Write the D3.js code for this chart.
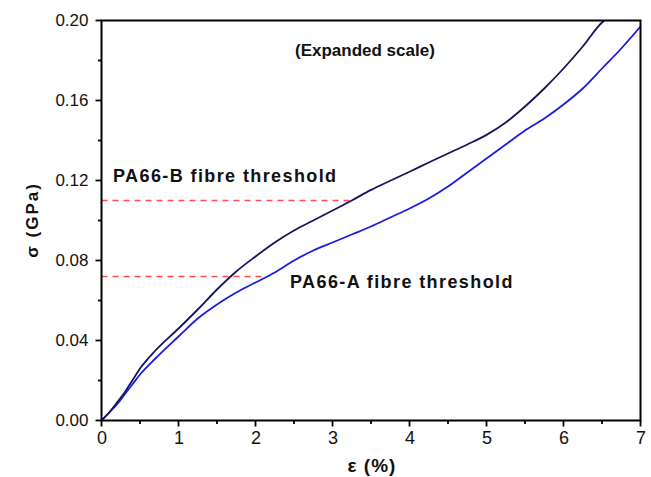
<!DOCTYPE html>
<html><head><meta charset="utf-8">
<script src="https://cdn.jsdelivr.net/npm/d3@7"></script>
<style>
html,body{margin:0;padding:0;background:#fff;}
svg{display:block;font-family:"Liberation Sans",Arial,sans-serif;}
</style></head>
<body><svg id="c" width="651" height="477"></svg>
<script>
// Data
const strainB = [0,0.1,0.2,0.3,0.4,0.5,0.7,1.0,1.25,1.5,1.75,2.0,2.25,2.5,2.75,3.0,3.25,3.5,3.75,4.0,4.25,4.5,4.75,5.0,5.25,5.5,5.75,6.0,6.25,6.5,6.53];
const stressB = [0,0.004,0.009,0.014,0.020,0.026,0.035,0.046,0.0555,0.0655,0.0745,0.082,0.089,0.095,0.100,0.105,0.110,0.1153,0.1199,0.1244,0.129,0.1335,0.138,0.1428,0.149,0.157,0.166,0.176,0.187,0.199,0.200];
const strainA = [0,0.1,0.2,0.3,0.4,0.5,0.7,1.0,1.25,1.5,1.75,2.0,2.25,2.5,2.75,3.0,3.25,3.5,3.75,4.0,4.25,4.5,4.75,5.0,5.25,5.5,5.75,6.0,6.25,6.5,6.75,7.0];
const stressA = [0,0.004,0.008,0.013,0.018,0.023,0.031,0.042,0.051,0.058,0.064,0.069,0.074,0.080,0.085,0.089,0.093,0.097,0.1015,0.106,0.111,0.117,0.124,0.131,0.138,0.145,0.151,0.158,0.166,0.176,0.186,0.197];
const thresholdNames = ["PA66-B fibre threshold","PA66-A fibre threshold"];
const thresholdValues = [0.110, 0.072];
const thresholdEnds = [3.22, 2.08];
const xTicks = [0,1,2,3,4,5,6,7];
const xMinorTicks = [0.5,1.5,2.5,3.5,4.5,5.5,6.5];
const yTicks = [0,0.04,0.08,0.12,0.16,0.20];
const yMinorTicks = [0.02,0.06,0.10,0.14,0.18];

const svg = d3.select("#c");
const L=101.5, R=640.5, T=20.5, B=420.5;
const x = d3.scaleLinear().domain([0,7]).range([L,R]);
const y = d3.scaleLinear().domain([0,0.2]).range([B,T]);

svg.append("defs").append("clipPath").attr("id","clip")
  .append("rect").attr("x",L).attr("y",T).attr("width",R-L).attr("height",B-T);

// threshold lines
thresholdValues.forEach((v,i)=>{
  svg.append("line").attr("x1",x(0)).attr("x2",x(thresholdEnds[i]))
    .attr("y1",y(v)).attr("y2",y(v))
    .attr("stroke","#ff4d4d").attr("stroke-width",1.4).attr("stroke-dasharray","6,5");
});

const line = d3.line().x(d=>x(d[0])).y(d=>y(d[1])).curve(d3.curveMonotoneX);
const g = svg.append("g").attr("clip-path","url(#clip)");
g.append("path").datum(strainA.map((e,i)=>[e,stressA[i]]))
  .attr("d",line).attr("fill","none").attr("stroke","#1c1ce6").attr("stroke-width",1.8);
g.append("path").datum(strainB.map((e,i)=>[e,stressB[i]]))
  .attr("d",line).attr("fill","none").attr("stroke","#15155e").attr("stroke-width",1.8);

// tick marks drawn from the scales
const tk = svg.append("g").attr("stroke","#000").attr("stroke-width",1.8);
xTicks.forEach(v=>tk.append("line").attr("x1",x(v)).attr("x2",x(v)).attr("y1",B).attr("y2",B+6));
xMinorTicks.forEach(v=>tk.append("line").attr("x1",x(v)).attr("x2",x(v)).attr("y1",B).attr("y2",B+3.5));
yTicks.forEach(v=>tk.append("line").attr("y1",y(v)).attr("y2",y(v)).attr("x1",L).attr("x2",L-6));
yMinorTicks.forEach(v=>tk.append("line").attr("y1",y(v)).attr("y2",y(v)).attr("x1",L).attr("x2",L-3.5));

// tick labels via d3 axes
const xAxis = svg.append("g").attr("transform",`translate(0,${B})`)
  .call(d3.axisBottom(x).tickValues(xTicks).tickSize(6).tickPadding(5).tickFormat(d3.format("d")));
const yAxis = svg.append("g").attr("transform",`translate(${L},0)`)
  .call(d3.axisLeft(y).tickValues(yTicks).tickSize(6).tickPadding(7).tickFormat(d3.format(".2f")));
[xAxis,yAxis].forEach(a=>{a.select(".domain").remove(); a.selectAll(".tick line").remove();});
xAxis.selectAll("text").attr("font-size",18).attr("fill","#111").attr("font-family","Liberation Sans, Arial, sans-serif");
yAxis.selectAll("text").attr("font-size",17).attr("fill","#111").attr("font-family","Liberation Sans, Arial, sans-serif");

// frame
svg.append("rect").attr("x",L).attr("y",T).attr("width",R-L).attr("height",B-T)
  .attr("fill","none").attr("stroke","#000").attr("stroke-width",2);

// axis titles
svg.append("text").attr("transform","translate(38,220) rotate(-90)")
  .attr("text-anchor","middle").attr("font-size",17).attr("font-weight","bold").attr("fill","#111")
  .attr("letter-spacing","2px").text("σ (GPa)");
svg.append("text").attr("x",372).attr("y",472)
  .attr("text-anchor","middle").attr("font-size",19).attr("font-weight","bold").attr("fill","#111")
  .attr("letter-spacing","1px").text("ε (%)");

// annotations
svg.append("text").attr("x",295).attr("y",56).attr("font-size",17).attr("font-weight","bold").attr("fill","#111")
  .text("(Expanded scale)");
svg.append("text").attr("x",113).attr("y",182).attr("font-size",18).attr("font-weight","bold")
  .attr("letter-spacing","1.4px").attr("fill","#111").text(thresholdNames[0]);
svg.append("text").attr("x",290).attr("y",288).attr("font-size",18).attr("font-weight","bold")
  .attr("letter-spacing","1.4px").attr("fill","#111").text(thresholdNames[1]);
</script></body></html>
